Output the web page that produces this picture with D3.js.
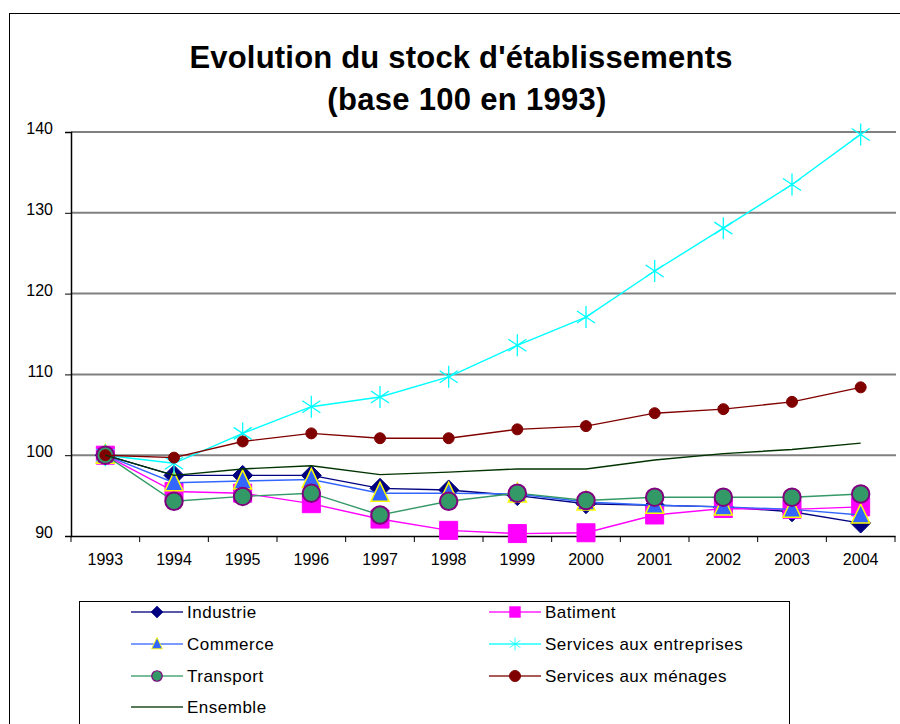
<!DOCTYPE html>
<html>
<head>
<meta charset="utf-8">
<script src="https://cdn.jsdelivr.net/npm/d3@7"></script>
<style>
  body { margin: 0; background: #fff; }
  text { font-family: "Liberation Sans", Arial, sans-serif; }
</style>
</head>
<body>
<div class="chart"></div>
<script>
var svgWidth = 900;
var svgHeight = 724;

// data
var years = ["1993", "1994", "1995", "1996", "1997", "1998", "1999", "2000", "2001", "2002", "2003", "2004"];
var yTicks = [90, 100, 110, 120, 130, 140];

var industrie = [100, 97.5, 97.5, 97.5, 95.9, 95.7, 95.0, 94.0, 93.8, 93.6, 93.0, 91.6];
var batiment = [100, 95.5, 95.3, 94.0, 92.1, 90.7, 90.3, 90.4, 92.6, 93.4, 93.3, 93.6];
var commerce = [100, 96.6, 96.8, 97.0, 95.3, 95.3, 95.2, 94.2, 93.8, 93.6, 93.3, 92.6];
var servEntreprises = [100, 99.0, 102.7, 106.0, 107.2, 109.7, 113.6, 117.1, 122.8, 128.1, 133.5, 139.7];
var transport = [100, 94.3, 94.9, 95.3, 92.6, 94.3, 95.3, 94.4, 94.8, 94.8, 94.8, 95.2];
var servMenages = [100, 99.7, 101.7, 102.7, 102.1, 102.1, 103.2, 103.6, 105.2, 105.7, 106.6, 108.4];
var ensemble = [100, 97.5, 98.3, 98.7, 97.6, 97.9, 98.3, 98.3, 99.4, 100.2, 100.7, 101.5];

// drawing order follows the legend order of the original workbook
var series = [
  {name: "Industrie", values: industrie, line: "#000080", marker: "diamond", fill: "#000080", stroke: "#000080", col: 0, row: 0},
  {name: "Batiment", values: batiment, line: "#ff00ff", marker: "square", fill: "#ff00ff", stroke: "#ff00ff", col: 1, row: 0},
  {name: "Commerce", values: commerce, line: "#3366ff", marker: "triangle", fill: "#3366ff", stroke: "#ffff00", col: 0, row: 1},
  {name: "Services aux entreprises", values: servEntreprises, line: "#00ffff", marker: "star", fill: "none", stroke: "#00ffff", col: 1, row: 1},
  {name: "Transport", values: transport, line: "#339966", marker: "circle", fill: "#339966", stroke: "#800080", col: 0, row: 2},
  {name: "Services aux ménages", values: servMenages, line: "#800000", marker: "dot", fill: "#800000", stroke: "#800000", col: 1, row: 2},
  {name: "Ensemble", values: ensemble, line: "#003300", marker: null, col: 0, row: 3}
];

var plot = {left: 71, right: 895, top: 132, bottom: 536};

var svg = d3.select(".chart")
  .append("svg")
  .attr("width", svgWidth)
  .attr("height", svgHeight);

// outer frame
svg.append("rect")
  .attr("x", 9.5).attr("y", 13.5)
  .attr("width", 900).attr("height", 730)
  .attr("fill", "none")
  .attr("stroke", "#000")
  .attr("stroke-width", 1);

// title
svg.append("text")
  .attr("x", 461).attr("y", 68)
  .attr("text-anchor", "middle")
  .attr("font-size", 31)
  .attr("font-weight", "bold")
  .attr("letter-spacing", 0.2)
  .text("Evolution du stock d'établissements");
svg.append("text")
  .attr("x", 467).attr("y", 110)
  .attr("text-anchor", "middle")
  .attr("font-size", 31)
  .attr("font-weight", "bold")
  .attr("letter-spacing", 0.3)
  .text("(base 100 en 1993)");

var x = d3.scaleBand()
  .domain(years)
  .range([plot.left, plot.right])
  .padding(0);

var y = d3.scaleLinear()
  .domain([90, 140])
  .range([plot.bottom, plot.top]);

var cx = d => x(d) + x.bandwidth() / 2;

// gridlines
svg.append("g")
  .selectAll("line")
  .data(yTicks.filter(t => t > 90))
  .enter()
  .append("line")
  .attr("x1", plot.left).attr("x2", plot.right + 1)
  .attr("y1", d => y(d)).attr("y2", d => y(d))
  .attr("stroke", "#808080")
  .attr("stroke-width", 2);

// y axis
var leftAxis = d3.axisLeft(y)
  .tickValues(yTicks)
  .tickSize(6)
  .tickPadding(12);
var yAxis = svg.append("g")
  .attr("transform", `translate(${plot.left}, 0)`)
  .call(leftAxis);
yAxis.select(".domain").attr("stroke", "#000").attr("stroke-width", 1.5);
yAxis.selectAll(".tick line").attr("stroke", "#000");
yAxis.selectAll(".tick text")
  .attr("font-size", 16)
  .attr("fill", "#000")
  .attr("dy", "0.1em");

// x axis
var bottomAxis = d3.axisBottom(x).tickSize(0).tickPadding(18);
var xAxis = svg.append("g")
  .attr("transform", `translate(0, ${plot.bottom})`)
  .call(bottomAxis);
xAxis.select(".domain").attr("stroke", "#000").attr("stroke-width", 1.5);
xAxis.selectAll(".tick text")
  .attr("font-size", 16)
  .attr("fill", "#000");
// category boundary ticks
xAxis.append("g")
  .selectAll("line")
  .data(years.concat(["end"]))
  .enter()
  .append("line")
  .attr("x1", (d, i) => plot.left + i * x.bandwidth())
  .attr("x2", (d, i) => plot.left + i * x.bandwidth())
  .attr("y1", 0).attr("y2", 6)
  .attr("stroke", "#000");

// marker shapes
function markerPath(type) {
  if (type === "diamond") return "M0,-10L10,0L0,10L-10,0Z";
  if (type === "square") return "M-9,-9H9V9H-9Z";
  if (type === "triangle") return "M0,-11L9,8H-9Z";
  if (type === "star") return "M0,-11V11M-9,-6L9,6M-9,6L9,-6";
  if (type === "circle") return d3.symbol(d3.symbolCircle, 240)();
  if (type === "dot") return d3.symbol(d3.symbolCircle, 95)();
  return null;
}

function drawMarker(g, s, size) {
  var p = g.append("path")
    .attr("d", markerPath(s.marker))
    .attr("fill", s.fill)
    .attr("stroke", s.stroke);
  if (s.marker === "triangle") p.attr("stroke-width", 1.5);
  if (s.marker === "circle") p.attr("stroke-width", 2);
  if (s.marker === "star") p.attr("stroke-width", 1.3);
  if (size) p.attr("transform", `scale(${size})`);
  return p;
}

var line = d3.line()
  .x((d, i) => cx(years[i]))
  .y(d => y(d));

var chartGroup = svg.append("g");

series.forEach(function(s) {
  var g = chartGroup.append("g");
  g.append("path")
    .datum(s.values)
    .attr("d", line)
    .attr("fill", "none")
    .attr("stroke", s.line)
    .attr("stroke-width", 1.4);
  if (s.marker) {
    s.values.forEach(function(v, i) {
      var m = g.append("g")
        .attr("transform", `translate(${cx(years[i])}, ${y(v)})`);
      drawMarker(m, s);
    });
  }
});

// legend
var legend = svg.append("g");
legend.append("rect")
  .attr("x", 79.5).attr("y", 601.5)
  .attr("width", 710).attr("height", 160)
  .attr("fill", "none")
  .attr("stroke", "#000");

var colX = [131, 489];
var rowY = [612, 644, 676, 707];

series.forEach(function(s) {
  var lx = colX[s.col];
  var ly = rowY[s.row];
  var item = legend.append("g").attr("transform", `translate(${lx}, ${ly})`);
  item.append("line")
    .attr("x1", 0).attr("x2", 52)
    .attr("y1", 0).attr("y2", 0)
    .attr("stroke", s.line)
    .attr("stroke-opacity", 0.65)
    .attr("stroke-width", 2);
  if (s.marker) {
    var m = item.append("g").attr("transform", "translate(26, 0)");
    drawMarker(m, s, s.marker === "dot" ? 1 : 0.6);
  }
  item.append("text")
    .attr("x", 56).attr("y", 0)
    .attr("dy", "0.35em")
    .attr("font-size", 17)
    .attr("letter-spacing", 0.5)
    .attr("fill", "#000")
    .text(s.name);
});
</script>
</body>
</html>
